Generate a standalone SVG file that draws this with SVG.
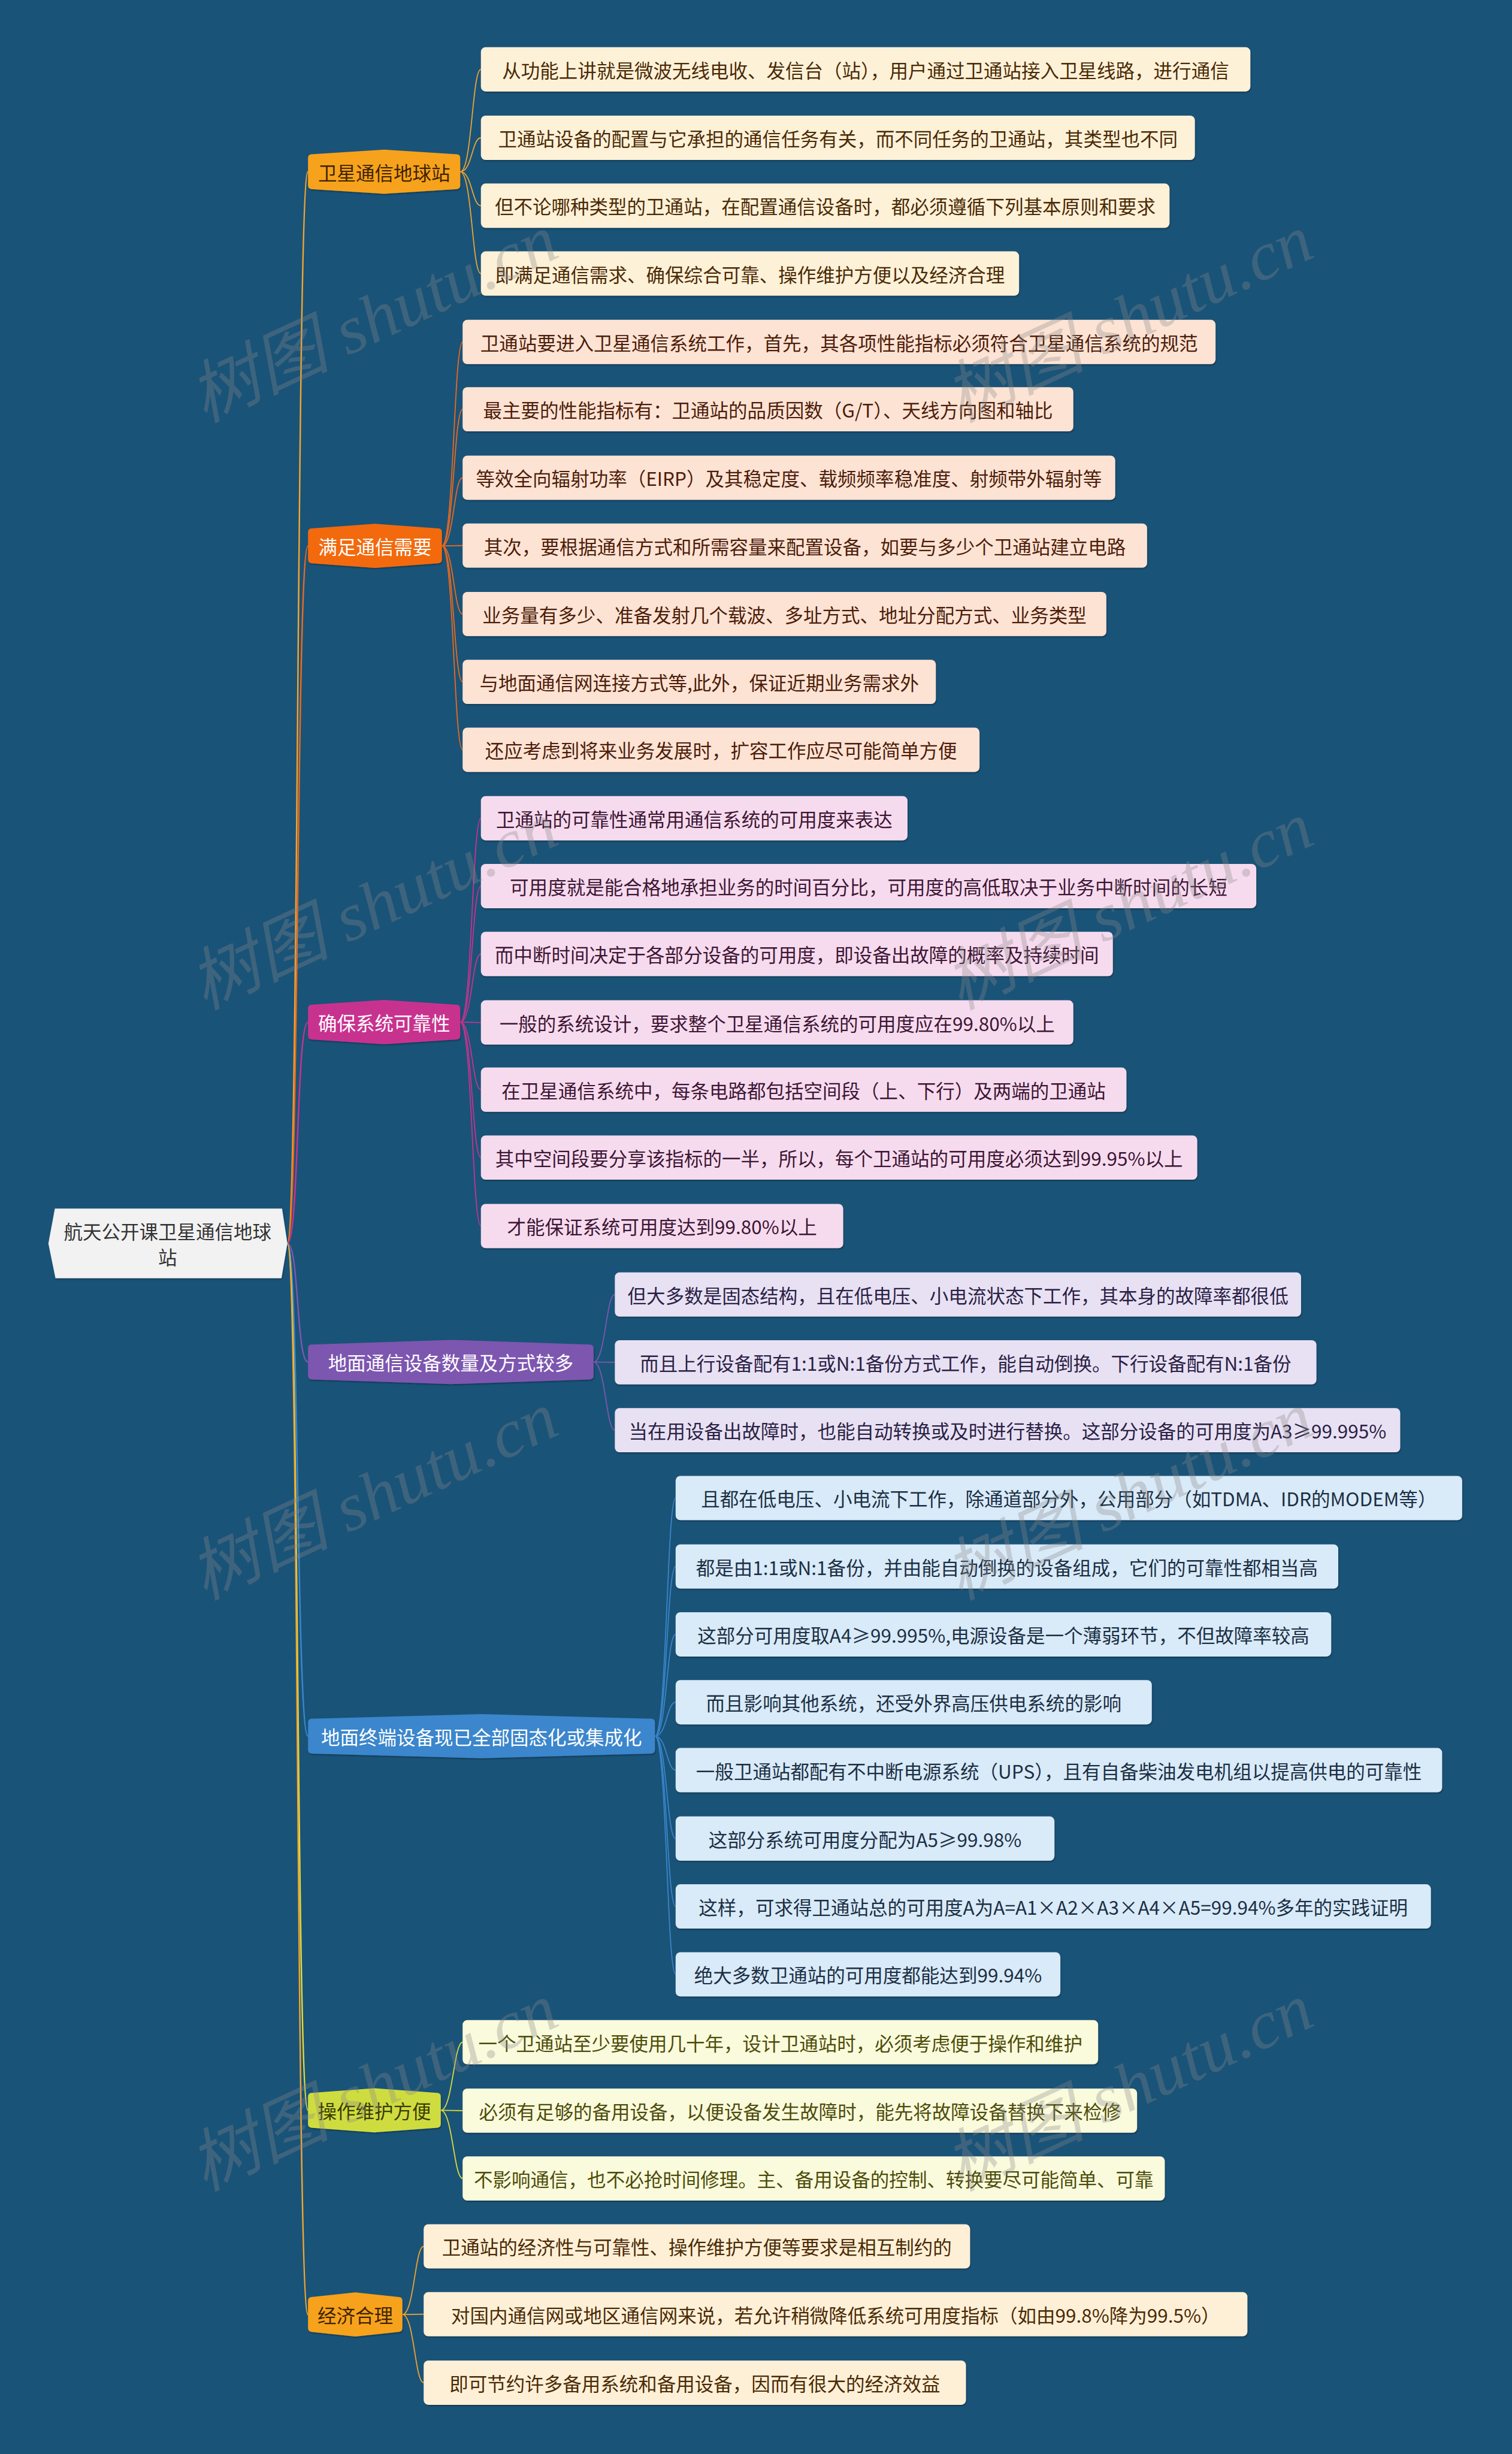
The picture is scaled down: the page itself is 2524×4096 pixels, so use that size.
<svg xmlns="http://www.w3.org/2000/svg" width="2524" height="4096" viewBox="0 0 2524 4096">
<defs>
<filter id="sh" x="-5%" y="-20%" width="110%" height="150%"><feDropShadow dx="1" dy="2" stdDeviation="1" flood-color="#000" flood-opacity="0.3"/></filter>
<style>
text{font-family:"Noto Sans CJK SC","Noto Sans",sans-serif;font-size:32px;text-anchor:middle;dominant-baseline:central}
.leaf rect{filter:url(#sh)}
.br path{filter:url(#sh)}
.l1 rect{fill:#fdf1d8}.l1 text{fill:#4b2a05}
.l2 rect{fill:#fde3d4}.l2 text{fill:#4d1d0a}
.l3 rect{fill:#f6dbee}.l3 text{fill:#3d1534}
.l4 rect{fill:#e8e1f3}.l4 text{fill:#2a2145}
.l5 rect{fill:#d9eaf8}.l5 text{fill:#1b2f44}
.l6 rect{fill:#fafadc}.l6 text{fill:#4c4c0a}
.l7 rect{fill:#fef0d7}.l7 text{fill:#4b2a05}
.conn path{fill:none;stroke-width:1.8}
.conn .r{stroke-width:2.5}
.k1{stroke:#f2a530}.k2{stroke:#ee6a1c}.k3{stroke:#c8338f}.k4{stroke:#7d57b0}.k5{stroke:#3a86cc}.k6{stroke:#dcdc3c}.k7{stroke:#f2a530}
.wm{font-family:"Liberation Serif","Noto Sans CJK SC",serif;font-style:italic;font-size:115px;fill:#8a8a8a;opacity:0.32;dominant-baseline:alphabetic}
</style>
</defs>
<rect width="2524" height="4096" fill="#1a5378"/>
<g transform="scale(0.985)">
<g id="connectors" class="conn">
<path class="r k1" d="M487,2107 C507,2107 502,291 522,291"/>
<path class="r k2" d="M487,2107 C507,2107 502,925 522,925"/>
<path class="r k3" d="M487,2107 C507,2107 502,1732 522,1732"/>
<path class="r k4" d="M487,2107 C507,2107 502,2308 522,2308"/>
<path class="r k5" d="M487,2107 C507,2107 502,2942 522,2942"/>
<path class="r k6" d="M487,2107 C507,2107 502,3576 522,3576"/>
<path class="r k7" d="M487,2107 C507,2107 502,3922 522,3922"/>
<path class="k1" d="M780,291 C800,291 800,117.5 815,117.5"/>
<path class="k1" d="M780,291 C800,291 800,233.5 815,233.5"/>
<path class="k1" d="M780,291 C800,291 800,348.5 815,348.5"/>
<path class="k1" d="M780,291 C800,291 800,463.5 815,463.5"/>
<path class="k2" d="M749,925 C769,925 769,579.5 784,579.5"/>
<path class="k2" d="M749,925 C769,925 769,693.5 784,693.5"/>
<path class="k2" d="M749,925 C769,925 769,809.5 784,809.5"/>
<path class="k2" d="M749,925 C769,925 769,924.5 784,924.5"/>
<path class="k2" d="M749,925 C769,925 769,1040.5 784,1040.5"/>
<path class="k2" d="M749,925 C769,925 769,1155.5 784,1155.5"/>
<path class="k2" d="M749,925 C769,925 769,1270.5 784,1270.5"/>
<path class="k3" d="M780,1732 C800,1732 800,1386.5 815,1386.5"/>
<path class="k3" d="M780,1732 C800,1732 800,1501.5 815,1501.5"/>
<path class="k3" d="M780,1732 C800,1732 800,1616.5 815,1616.5"/>
<path class="k3" d="M780,1732 C800,1732 800,1732.5 815,1732.5"/>
<path class="k3" d="M780,1732 C800,1732 800,1846.5 815,1846.5"/>
<path class="k3" d="M780,1732 C800,1732 800,1961.5 815,1961.5"/>
<path class="k3" d="M780,1732 C800,1732 800,2077.5 815,2077.5"/>
<path class="k4" d="M1006,2308 C1026,2308 1027,2193.5 1042,2193.5"/>
<path class="k4" d="M1006,2308 C1026,2308 1027,2308.5 1042,2308.5"/>
<path class="k4" d="M1006,2308 C1026,2308 1027,2423.5 1042,2423.5"/>
<path class="k5" d="M1110,2942 C1130,2942 1130,2538.5 1145,2538.5"/>
<path class="k5" d="M1110,2942 C1130,2942 1130,2654.5 1145,2654.5"/>
<path class="k5" d="M1110,2942 C1130,2942 1130,2769.5 1145,2769.5"/>
<path class="k5" d="M1110,2942 C1130,2942 1130,2884.5 1145,2884.5"/>
<path class="k5" d="M1110,2942 C1130,2942 1130,2999.5 1145,2999.5"/>
<path class="k5" d="M1110,2942 C1130,2942 1130,3115.5 1145,3115.5"/>
<path class="k5" d="M1110,2942 C1130,2942 1130,3230.5 1145,3230.5"/>
<path class="k5" d="M1110,2942 C1130,2942 1130,3345.5 1145,3345.5"/>
<path class="k6" d="M747,3576 C767,3576 769,3460.5 784,3460.5"/>
<path class="k6" d="M747,3576 C767,3576 769,3576.5 784,3576.5"/>
<path class="k6" d="M747,3576 C767,3576 769,3691.5 784,3691.5"/>
<path class="k7" d="M682,3922 C702,3922 703,3806.5 718,3806.5"/>
<path class="k7" d="M682,3922 C702,3922 703,3921.5 718,3921.5"/>
<path class="k7" d="M682,3922 C702,3922 703,4037.5 718,4037.5"/>
</g>

<g id="root"><path d="M93,2048 L478,2048 L487,2107 L477,2166 L94,2166 L82,2107 Z" fill="#f2f2f2" filter="url(#sh)"/><text x="284" y="2085" fill="#333">航天公开课卫星通信地球</text><text x="284" y="2129" fill="#333">站</text></g>

<g id="b1" class="br"><path fill="#f7a21b" d="M528,261.5 L651,253.5 L774,261.5 Q780,262 780,268 L780,314 Q780,320 774,320.5 L651,328.5 L528,320.5 Q522,320 522,314 L522,268 Q522,262 528,261.5Z"/><text x="651" y="291" fill="#3d2300">卫星通信地球站</text></g>
<g id="b2" class="br"><path fill="#f26a10" d="M528,895.5 L635.5,887.5 L743,895.5 Q749,896 749,902 L749,948 Q749,954 743,954.5 L635.5,962.5 L528,954.5 Q522,954 522,948 L522,902 Q522,896 528,895.5Z"/><text x="635.5" y="925" fill="#fff">满足通信需要</text></g>
<g id="b3" class="br"><path fill="#c8338f" d="M528,1702.5 L651,1694.5 L774,1702.5 Q780,1703 780,1709 L780,1755 Q780,1761 774,1761.5 L651,1769.5 L528,1761.5 Q522,1761 522,1755 L522,1709 Q522,1703 528,1702.5Z"/><text x="651" y="1732" fill="#fff">确保系统可靠性</text></g>
<g id="b4" class="br"><path fill="#7d57b0" d="M528,2278.5 L764,2270.5 L1000,2278.5 Q1006,2279 1006,2285 L1006,2331 Q1006,2337 1000,2337.5 L764,2345.5 L528,2337.5 Q522,2337 522,2331 L522,2285 Q522,2279 528,2278.5Z"/><text x="764" y="2308" fill="#fff">地面通信设备数量及方式较多</text></g>
<g id="b5" class="br"><path fill="#3a86cc" d="M528,2912.5 L816,2904.5 L1104,2912.5 Q1110,2913 1110,2919 L1110,2965 Q1110,2971 1104,2971.5 L816,2979.5 L528,2971.5 Q522,2971 522,2965 L522,2919 Q522,2913 528,2912.5Z"/><text x="816" y="2942" fill="#fff">地面终端设备现已全部固态化或集成化</text></g>
<g id="b6" class="br"><path fill="#cfdc40" d="M528,3546.5 L634.5,3538.5 L741,3546.5 Q747,3547 747,3553 L747,3599 Q747,3605 741,3605.5 L634.5,3613.5 L528,3605.5 Q522,3605 522,3599 L522,3553 Q522,3547 528,3546.5Z"/><text x="634.5" y="3576" fill="#3a3a00">操作维护方便</text></g>
<g id="b7" class="br"><path fill="#f7a21b" d="M528,3892.5 L602,3884.5 L676,3892.5 Q682,3893 682,3899 L682,3945 Q682,3951 676,3951.5 L602,3959.5 L528,3951.5 Q522,3951 522,3945 L522,3899 Q522,3893 528,3892.5Z"/><text x="602" y="3922" fill="#3d2300">经济合理</text></g>

<g id="n1-1" class="leaf l1"><rect x="815" y="80" width="1304" height="75" rx="8"/><text x="1467" y="117.5">从功能上讲就是微波无线电收、发信台（站），用户通过卫通站接入卫星线路，进行通信</text></g>
<g id="n1-2" class="leaf l1"><rect x="815" y="196" width="1210" height="75" rx="8"/><text x="1420" y="233.5">卫通站设备的配置与它承担的通信任务有关，而不同任务的卫通站，其类型也不同</text></g>
<g id="n1-3" class="leaf l1"><rect x="815" y="311" width="1167" height="75" rx="8"/><text x="1398.5" y="348.5">但不论哪种类型的卫通站，在配置通信设备时，都必须遵循下列基本原则和要求</text></g>
<g id="n1-4" class="leaf l1"><rect x="815" y="426" width="912" height="75" rx="8"/><text x="1271" y="463.5">即满足通信需求、确保综合可靠、操作维护方便以及经济合理</text></g>

<g id="n2-1" class="leaf l2"><rect x="784" y="542" width="1276" height="75" rx="8"/><text x="1422" y="579.5">卫通站要进入卫星通信系统工作，首先，其各项性能指标必须符合卫星通信系统的规范</text></g>
<g id="n2-2" class="leaf l2"><rect x="784" y="656" width="1035" height="75" rx="8"/><text x="1301.5" y="693.5">最主要的性能指标有：卫通站的品质因数（G/T）、天线方向图和轴比</text></g>
<g id="n2-3" class="leaf l2"><rect x="784" y="772" width="1106" height="75" rx="8"/><text x="1337" y="809.5">等效全向辐射功率（EIRP）及其稳定度、载频频率稳准度、射频带外辐射等</text></g>
<g id="n2-4" class="leaf l2"><rect x="784" y="887" width="1160" height="75" rx="8"/><text x="1364" y="924.5">其次，要根据通信方式和所需容量来配置设备，如要与多少个卫通站建立电路</text></g>
<g id="n2-5" class="leaf l2"><rect x="784" y="1003" width="1091" height="75" rx="8"/><text x="1329.5" y="1040.5">业务量有多少、准备发射几个载波、多址方式、地址分配方式、业务类型</text></g>
<g id="n2-6" class="leaf l2"><rect x="784" y="1118" width="802" height="75" rx="8"/><text x="1185" y="1155.5">与地面通信网连接方式等,此外，保证近期业务需求外</text></g>
<g id="n2-7" class="leaf l2"><rect x="784" y="1233" width="876" height="75" rx="8"/><text x="1222" y="1270.5">还应考虑到将来业务发展时，扩容工作应尽可能简单方便</text></g>

<g id="n3-1" class="leaf l3"><rect x="815" y="1349" width="723" height="75" rx="8"/><text x="1176.5" y="1386.5">卫通站的可靠性通常用通信系统的可用度来表达</text></g>
<g id="n3-2" class="leaf l3"><rect x="815" y="1464" width="1314" height="75" rx="8"/><text x="1472" y="1501.5">可用度就是能合格地承担业务的时间百分比，可用度的高低取决于业务中断时间的长短</text></g>
<g id="n3-3" class="leaf l3"><rect x="815" y="1579" width="1071" height="75" rx="8"/><text x="1350.5" y="1616.5">而中断时间决定于各部分设备的可用度，即设备出故障的概率及持续时间</text></g>
<g id="n3-4" class="leaf l3"><rect x="815" y="1695" width="1004" height="75" rx="8"/><text x="1317" y="1732.5">一般的系统设计，要求整个卫星通信系统的可用度应在99.80%以上</text></g>
<g id="n3-5" class="leaf l3"><rect x="815" y="1809" width="1094" height="75" rx="8"/><text x="1362" y="1846.5">在卫星通信系统中，每条电路都包括空间段（上、下行）及两端的卫通站</text></g>
<g id="n3-6" class="leaf l3"><rect x="815" y="1924" width="1214" height="75" rx="8"/><text x="1422" y="1961.5">其中空间段要分享该指标的一半，所以，每个卫通站的可用度必须达到99.95%以上</text></g>
<g id="n3-7" class="leaf l3"><rect x="815" y="2040" width="614" height="75" rx="8"/><text x="1122" y="2077.5">才能保证系统可用度达到99.80%以上</text></g>

<g id="n4-1" class="leaf l4"><rect x="1042" y="2156" width="1163" height="75" rx="8"/><text x="1623.5" y="2193.5">但大多数是固态结构，且在低电压、小电流状态下工作，其本身的故障率都很低</text></g>
<g id="n4-2" class="leaf l4"><rect x="1042" y="2271" width="1189" height="75" rx="8"/><text x="1636.5" y="2308.5">而且上行设备配有1:1或N:1备份方式工作，能自动倒换。下行设备配有N:1备份</text></g>
<g id="n4-3" class="leaf l4"><rect x="1042" y="2386" width="1331" height="75" rx="8"/><text x="1707.5" y="2423.5">当在用设备出故障时，也能自动转换或及时进行替换。这部分设备的可用度为A3≥99.995%</text></g>

<g id="n5-1" class="leaf l5"><rect x="1145" y="2501" width="1333" height="75" rx="8"/><text x="1811.5" y="2538.5">且都在低电压、小电流下工作，除通道部分外，公用部分（如TDMA、IDR的MODEM等）</text></g>
<g id="n5-2" class="leaf l5"><rect x="1145" y="2617" width="1123" height="75" rx="8"/><text x="1706.5" y="2654.5">都是由1:1或N:1备份，并由能自动倒换的设备组成，它们的可靠性都相当高</text></g>
<g id="n5-3" class="leaf l5"><rect x="1145" y="2732" width="1111" height="75" rx="8"/><text x="1700.5" y="2769.5">这部分可用度取A4≥99.995%,电源设备是一个薄弱环节，不但故障率较高</text></g>
<g id="n5-4" class="leaf l5"><rect x="1145" y="2847" width="807" height="75" rx="8"/><text x="1548.5" y="2884.5">而且影响其他系统，还受外界高压供电系统的影响</text></g>
<g id="n5-5" class="leaf l5"><rect x="1145" y="2962" width="1299" height="75" rx="8"/><text x="1794.5" y="2999.5">一般卫通站都配有不中断电源系统（UPS），且有自备柴油发电机组以提高供电的可靠性</text></g>
<g id="n5-6" class="leaf l5"><rect x="1145" y="3078" width="642" height="75" rx="8"/><text x="1466" y="3115.5">这部分系统可用度分配为A5≥99.98%</text></g>
<g id="n5-7" class="leaf l5"><rect x="1145" y="3193" width="1280" height="75" rx="8"/><text x="1785" y="3230.5">这样，可求得卫通站总的可用度A为A=A1×A2×A3×A4×A5=99.94%多年的实践证明</text></g>
<g id="n5-8" class="leaf l5"><rect x="1145" y="3308" width="652" height="75" rx="8"/><text x="1471" y="3345.5">绝大多数卫通站的可用度都能达到99.94%</text></g>

<g id="n6-1" class="leaf l6"><rect x="784" y="3423" width="1077" height="75" rx="8"/><text x="1322.5" y="3460.5">一个卫通站至少要使用几十年，设计卫通站时，必须考虑便于操作和维护</text></g>
<g id="n6-2" class="leaf l6"><rect x="784" y="3539" width="1143" height="75" rx="8"/><text x="1355.5" y="3576.5">必须有足够的备用设备，以便设备发生故障时，能先将故障设备替换下来检修</text></g>
<g id="n6-3" class="leaf l6"><rect x="784" y="3654" width="1190" height="75" rx="8"/><text x="1379" y="3691.5">不影响通信，也不必抢时间修理。主、备用设备的控制、转换要尽可能简单、可靠</text></g>

<g id="n7-1" class="leaf l7"><rect x="718" y="3769" width="926" height="75" rx="8"/><text x="1181" y="3806.5">卫通站的经济性与可靠性、操作维护方便等要求是相互制约的</text></g>
<g id="n7-2" class="leaf l7"><rect x="718" y="3884" width="1396" height="75" rx="8"/><text x="1416" y="3921.5">对国内通信网或地区通信网来说，若允许稍微降低系统可用度指标（如由99.8%降为99.5%）</text></g>
<g id="n7-3" class="leaf l7"><rect x="718" y="4000" width="919" height="75" rx="8"/><text x="1177.5" y="4037.5">即可节约许多备用系统和备用设备，因而有很大的经济效益</text></g>

<g id="watermark">
<text class="wm" transform="translate(649,575) rotate(-25)" x="0" y="0" textLength="670" lengthAdjust="spacingAndGlyphs">树图 shutu.cn</text>
<text class="wm" transform="translate(1929,575) rotate(-25)" x="0" y="0" textLength="670" lengthAdjust="spacingAndGlyphs">树图 shutu.cn</text>
<text class="wm" transform="translate(649,1570) rotate(-25)" x="0" y="0" textLength="670" lengthAdjust="spacingAndGlyphs">树图 shutu.cn</text>
<text class="wm" transform="translate(1929,1570) rotate(-25)" x="0" y="0" textLength="670" lengthAdjust="spacingAndGlyphs">树图 shutu.cn</text>
<text class="wm" transform="translate(649,2570) rotate(-25)" x="0" y="0" textLength="670" lengthAdjust="spacingAndGlyphs">树图 shutu.cn</text>
<text class="wm" transform="translate(1929,2570) rotate(-25)" x="0" y="0" textLength="670" lengthAdjust="spacingAndGlyphs">树图 shutu.cn</text>
<text class="wm" transform="translate(649,3572) rotate(-25)" x="0" y="0" textLength="670" lengthAdjust="spacingAndGlyphs">树图 shutu.cn</text>
<text class="wm" transform="translate(1929,3572) rotate(-25)" x="0" y="0" textLength="670" lengthAdjust="spacingAndGlyphs">树图 shutu.cn</text>
</g>
</g>
</svg>
